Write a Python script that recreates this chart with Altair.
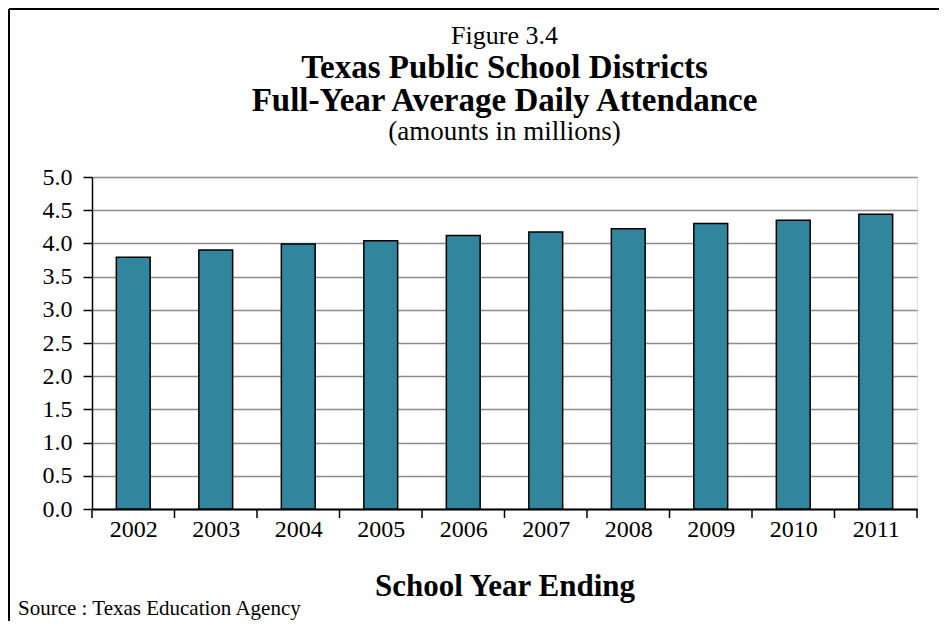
import altair as alt
import pandas as pd

# ---- data ----
years = [2002, 2003, 2004, 2005, 2006, 2007, 2008, 2009, 2010, 2011]
attendance = [3.79, 3.90, 3.99, 4.04, 4.12, 4.17, 4.22, 4.30, 4.35, 4.44]
y_ticks = [0.0, 0.5, 1.0, 1.5, 2.0, 2.5, 3.0, 3.5, 4.0, 4.5, 5.0]
boundaries = [2001.5, 2002.5, 2003.5, 2004.5, 2005.5, 2006.5, 2007.5, 2008.5, 2009.5, 2010.5, 2011.5]
title_lines = ["Figure 3.4", "Texas Public School Districts",
               "Full-Year Average Daily Attendance", "(amounts in millions)"]
x_title = "School Year Ending"
source_text = "Source : Texas Education Agency"

df = pd.DataFrame({"year": years, "value": attendance})

W, H = 825, 332
PAD_L, PAD_T, PAD_R, PAD_B = 84, 169, 22, 112
FONT = "Liberation Serif"
BAR = "#31859C"

x_scale = alt.Scale(domain=[boundaries[0], boundaries[-1]], nice=False, zero=False)
y_scale = alt.Scale(domain=[0, 5], nice=False, zero=True)

x_axis = alt.Axis(values=years, format="d", title=x_title, ticks=False, grid=False,
                  domainColor="black", domainWidth=2,
                  labelFont=FONT, labelFontSize=24, labelColor="black", labelPadding=8,
                  titleFont=FONT, titleFontSize=31, titleFontWeight="bold",
                  titleColor="black", titlePadding=30)

bars = alt.Chart(df).transform_calculate(
    x0="datum.year - 0.205", x1="datum.year + 0.205", base="0"
).mark_bar(color=BAR, stroke="black", strokeWidth=1.5).encode(
    x=alt.X("x0:Q", scale=x_scale, axis=x_axis),
    x2="x1:Q",
    y=alt.Y("value:Q", scale=y_scale,
            axis=alt.Axis(values=y_ticks, format=".1f", title=None,
                          domainColor="black", domainWidth=1.5,
                          tickColor="black", tickSize=9, tickWidth=1.5,
                          labelFont=FONT, labelFontSize=24, labelColor="black", labelPadding=11,
                          gridColor="#8c8c8c", gridWidth=1.3)),
    y2="base:Q",
)

ticks = alt.Chart(pd.DataFrame({"b": boundaries})).mark_rule(
    color="black", strokeWidth=1.5
).encode(
    x=alt.X("b:Q", scale=x_scale, axis=x_axis),
    y=alt.value(H), y2=alt.value(H + 9),
)

def text_line(txt, y, size, weight="normal", x=W / 2, align="center"):
    return alt.Chart(pd.DataFrame({"t": [txt]})).mark_text(
        font=FONT, fontSize=size, fontWeight=weight, color="black",
        align=align, baseline="alphabetic"
    ).encode(text="t:N", x=alt.value(x), y=alt.value(y))

t0 = text_line(title_lines[0], -133, 26)
t1 = text_line(title_lines[1], -99, 33, "bold")
t2 = text_line(title_lines[2], -66, 33, "bold")
t3 = text_line(title_lines[3], -37, 27)
src = text_line(source_text, 438, 21, x=-74, align="left")

frame_top = alt.Chart(pd.DataFrame({"a": [0]})).mark_rule(color="black", strokeWidth=2).encode(
    x=alt.value(-PAD_L + 1), x2=alt.value(W + PAD_R), y=alt.value(-PAD_T + 1))
frame_left = alt.Chart(pd.DataFrame({"a": [0]})).mark_rule(color="black", strokeWidth=2).encode(
    x=alt.value(-PAD_L + 1), y=alt.value(-PAD_T + 1), y2=alt.value(H + PAD_B))

chart = alt.layer(bars, ticks, t0, t1, t2, t3, src, frame_top, frame_left).properties(
    width=W, height=H,
    autosize=alt.AutoSizeParams(type="none"),
    padding={"left": PAD_L, "top": PAD_T, "right": PAD_R, "bottom": PAD_B},
).configure_view(stroke="#8c8c8c", strokeWidth=1.5).configure(background="white")

chart.save("out.html", embed_options={"renderer": "svg", "actions": False})
